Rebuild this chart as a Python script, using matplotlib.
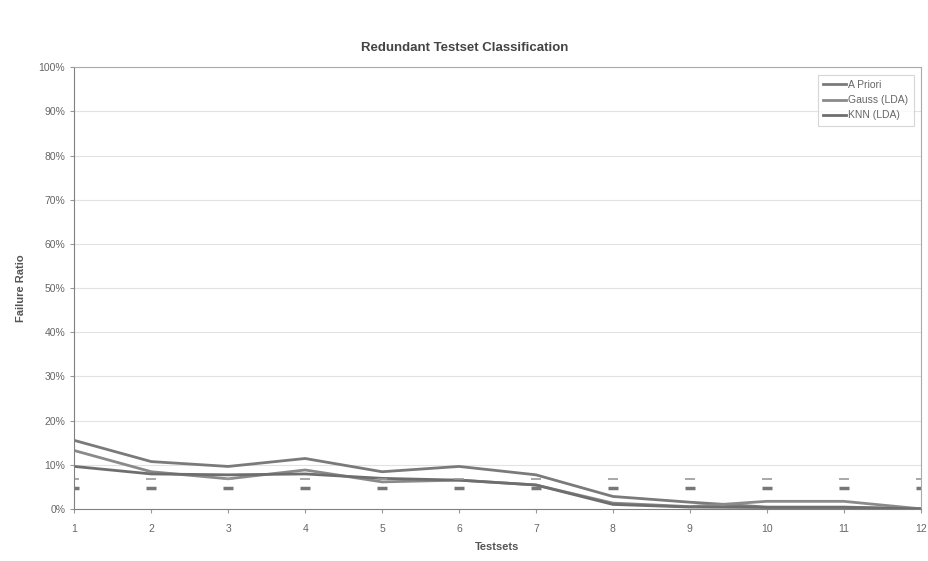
import matplotlib.pyplot as plt
from matplotlib.ticker import PercentFormatter

plt.rcParams['font.family'] = ['Liberation Sans', 'DejaVu Sans']

# data (failure ratio in %)
testsets = [1, 2, 3, 4, 5, 6, 7, 8, 9, 10, 11, 12]
a_priori = [15.5, 10.7, 9.6, 11.4, 8.4, 9.6, 7.7, 2.8, 1.5, 0.4, 0.4, 0.0]
gauss_lda = [13.2, 8.4, 6.8, 8.8, 6.1, 6.5, 5.4, 1.3, 0.5, 1.7, 1.7, 0.0]
knn_lda = [9.6, 7.9, 7.7, 7.9, 6.9, 6.5, 5.4, 1.0, 0.4, 0.3, 0.3, 0.0]
# small stray marks visible near each testset
mark_hi = [6.7] * 12
mark_lo = [4.8] * 12

line_col = '#7a7a7a'
txt_col = '#666666'

fig, ax = plt.subplots(figsize=(9.29, 5.61), dpi=100)
fig.subplots_adjust(left=0.08, right=0.991, top=0.88, bottom=0.093)

ax.plot(testsets, a_priori, color=line_col, lw=2.0, label='A Priori')
ax.plot(testsets, gauss_lda, color='#8a8a8a', lw=2.0, label='Gauss (LDA)')
ax.plot(testsets, knn_lda, color='#6e6e6e', lw=2.0, label='KNN (LDA)')
ax.plot(testsets, mark_hi, ls='none', marker='_', ms=7, mew=1.2, color='#999999')
ax.plot(testsets, mark_lo, ls='none', marker='_', ms=7, mew=2.5, color='#777777')

ax.set_xlim(1, 12)
ax.set_ylim(0, 100)
ax.set_xticks(testsets)
ax.set_yticks(range(0, 101, 10))
ax.yaxis.set_major_formatter(PercentFormatter(decimals=0))
ax.grid(axis='y', color='#e2e2e2', lw=0.8)
ax.set_axisbelow(True)
for s in ax.spines.values():
    s.set_color('#aaaaaa')
    s.set_linewidth(0.8)
ax.spines['left'].set_color('#808080')
ax.spines['bottom'].set_color('#808080')
ax.tick_params(colors='#999999', labelcolor=txt_col, labelsize=7.5, length=3)
ax.tick_params(axis='x', pad=8)

ax.set_xlabel('Testsets', fontsize=8, fontweight='bold', color='#555555', labelpad=6)
ax.set_ylabel('Failure Ratio', fontsize=8, fontweight='bold', color='#555555', labelpad=9)
fig.suptitle('Redundant Testset Classification', fontsize=9.5, fontweight='bold',
             color='#444444', y=0.925)

leg = ax.legend(loc='upper right', fontsize=7.5, frameon=True, fancybox=False,
                handlelength=2.2, handletextpad=0.2, borderpad=0.5,
                labelspacing=0.5, bbox_to_anchor=(0.998, 0.995))
leg.get_frame().set_edgecolor('#cccccc')
leg.get_frame().set_linewidth(0.8)
for t in leg.get_texts():
    t.set_color(txt_col)

plt.savefig('out.png', dpi=100)
